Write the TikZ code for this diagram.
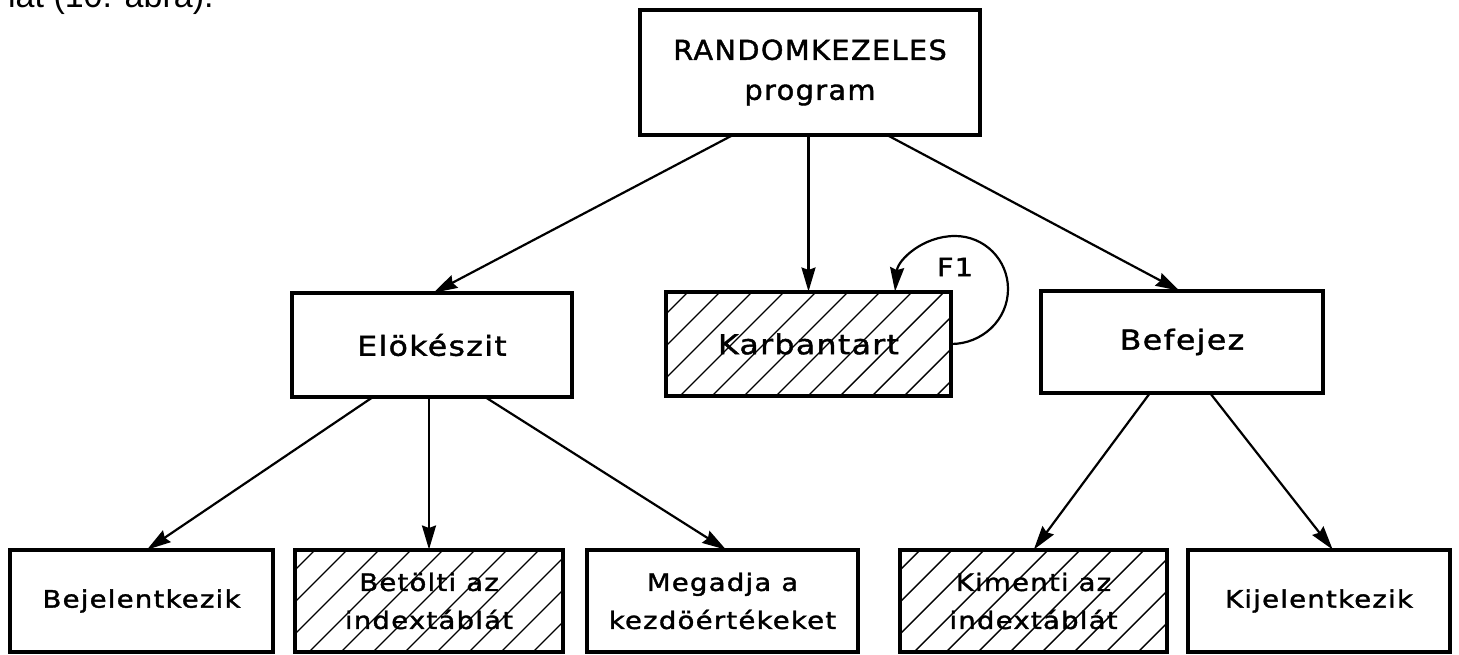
\documentclass[tikz,border=0pt]{standalone}
\usepackage{fontspec}
\usetikzlibrary{arrows.meta}
\newfontfamily\lettering[LetterSpace=5,FakeStretch=1.15,FakeBold=1.5]{DejaVu Sans}
\newfontfamily\capsletter[LetterSpace=5,FakeStretch=1.05,FakeBold=1.5]{DejaVu Sans}
\newfontfamily\bodyfont{Liberation Sans}
\begin{document}
\begin{tikzpicture}[x=1pt,y=1pt,
  box/.style={draw, line width=3.6pt, inner sep=0pt, outer sep=0pt, align=center},
  upper/.style={box, minimum height=104pt, font=\lettering\fontsize{27.4}{40}\selectfont},
  lower/.style={box, minimum height=102pt, font=\lettering\fontsize{24}{38}\selectfont},
  conn/.style={line width=2.2pt, -{Stealth[length=24pt,width=14pt,inset=2.5pt]}, shorten >=0.5pt},
  hatchline/.style={line width=1.4pt},
]
\useasboundingbox (0,0) rectangle (1459,654);

% caption fragment from the running text above
\node[anchor=base west, inner sep=0pt, font=\bodyfont\fontsize{34}{40}\selectfont] (cap) at (8,646) {lat (10. ábra).};

% top level
\node[box, minimum width=340pt, minimum height=125pt,
      font=\capsletter\fontsize{27.4}{40}\selectfont] (top) at (810,581.5) {RANDOMKEZELES\\program};

% second level
\node[upper, minimum width=280pt] (elo)  at (432,309)   {Elökészit};
\node[upper, minimum width=285pt] (karb) at (808.5,310) {Karbantart};
\node[upper, minimum width=282pt, minimum height=102pt] (bef) at (1182,312) {Befejez};

% third level
\node[lower, minimum width=263pt] (bej) at (141.5,53)  {Bejelentkezik};
\node[lower, minimum width=268pt] (bet) at (429,53)    {Betölti az\\indextáblát};
\node[lower, minimum width=271pt] (meg) at (722.5,53)  {Megadja a\\kezdöértékeket};
\node[lower, minimum width=267pt] (kim) at (1033.5,53) {Kimenti az\\indextáblát};
\node[lower, minimum width=262pt] (kij) at (1319,53)   {Kijelentkezik};

% diagonal hatching of the modules that touch the index table
\foreach \n in {karb,bet,kim}{
  \begin{scope}
    \clip (\n.south west) rectangle (\n.north east);
    \foreach \k in {-4,...,9}
      \draw[hatchline] ([xshift=\k*32pt+14pt]\n.south west) -- ++(130,130);
  \end{scope}
  \draw[line width=3.6pt] (\n.south west) rectangle (\n.north east);
}

% connectors
\draw[conn] ([xshift=-77pt]top.south) -- ([xshift=1pt]elo.north);
\draw[conn] (karb.north |- top.south) -- (karb.north);
\draw[conn] ([xshift=77pt]top.south) -- ([xshift=-2pt]bef.north);

\draw[conn] ([xshift=-59pt]elo.south) -- ([xshift=5pt]bej.north);
\draw[conn] (bet.north |- elo.south) -- (bet.north);
\draw[conn] ([xshift=53pt]elo.south) -- ([xshift=4pt]meg.north);

\draw[conn] ([xshift=-32pt]bef.south) -- (kim.north);
\draw[conn] ([xshift=28pt]bef.south) -- ([xshift=14pt]kij.north);

% F1 loop on Karbantart
\coordinate (f1r) at (1008,365);
\coordinate (f1t) at (955,418);
\draw[conn] (karb.east) to[out=0,in=-90] (f1r) to[out=90,in=0] (f1t)
  to[out=180,in=85] ([xshift=-56pt]karb.north east);
\node[font=\lettering\fontsize{25}{30}\selectfont] (f1) at (955,387) {F1};
\end{tikzpicture}
\end{document}
